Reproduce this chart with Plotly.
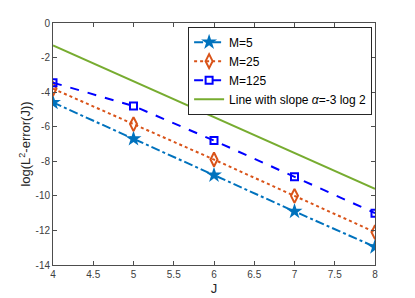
import plotly.graph_objects as go

J = [4, 5, 6, 7, 8]
err_m5 = [-4.6, -6.7, -8.8, -10.9, -12.95]
err_m25 = [-3.8, -5.85, -7.9, -10.0, -12.1]
err_m125 = [-3.45, -4.8, -6.8, -8.9, -11.0]
line_J = [4, 8]
line_vals = [-1.3, -9.6]
names = ["M=5", "M=25", "M=125", "Line with slope <i>α</i>=-3 log 2"]

fig = go.Figure()
fig.add_trace(go.Scatter(x=J, y=err_m5, name=names[0], mode="lines+markers",
    line=dict(color="#0072BD", width=2, dash="dashdot"),
    marker=dict(symbol="star", size=12, color="#0072BD", line=dict(width=0))))
fig.add_trace(go.Scatter(x=J, y=err_m25, name=names[1], mode="lines+markers",
    line=dict(color="#D95319", width=2, dash="dot"),
    marker=dict(symbol="diamond-tall-open", size=10, color="#D95319", line=dict(width=2))))
fig.add_trace(go.Scatter(x=J, y=err_m125, name=names[2], mode="lines+markers",
    line=dict(color="#0000FF", width=2, dash="dash"),
    marker=dict(symbol="square-open", size=7, color="#0000FF", line=dict(width=2))))
fig.add_trace(go.Scatter(x=line_J, y=line_vals, name=names[3], mode="lines",
    line=dict(color="#77AC30", width=2)))

axis_common = dict(showgrid=False, zeroline=False, showline=True, linecolor="#4d4d4d",
                   linewidth=1, mirror="ticks", ticks="inside", ticklen=4, tickcolor="#4d4d4d",
                   automargin=False,
                   tickfont=dict(family="Liberation Sans, Arial", size=10, color="#404040"))
fig.update_layout(
    width=415, height=298,
    margin=dict(l=53, r=40, t=23, b=33),
    paper_bgcolor="white", plot_bgcolor="white",
    font=dict(family="Liberation Sans, Arial", size=12, color="#262626"),
    xaxis=dict(range=[4, 8], tickvals=[4, 4.5, 5, 5.5, 6, 6.5, 7, 7.5, 8],
               ticktext=["4", "4.5", "5", "5.5", "6", "6.5", "7", "7.5", "8"],
               title=dict(text="J", standoff=4, font=dict(size=13)), **axis_common),
    yaxis=dict(range=[-14, 0], tickvals=[0, -2, -4, -6, -8, -10, -12, -14],
               ticktext=["0", "-2", "-4", "-6", "-8", "-10", "-12", "-14"],
               title=dict(text="log(L<sup>2</sup>-error(J))", standoff=1, font=dict(size=13)),
               **axis_common),
    legend=dict(x=0.991, y=0.985, xanchor="right", yanchor="top",
                bgcolor="white", bordercolor="#262626", borderwidth=1,
                font=dict(family="Liberation Sans, Arial", size=12, color="#000000"),
                tracegroupgap=0, itemwidth=30),
    showlegend=True,
)
fig.write_html("out.html", config={"displayModeBar": False},
               post_script="document.body.style.margin='0';document.body.style.overflow='hidden';")
